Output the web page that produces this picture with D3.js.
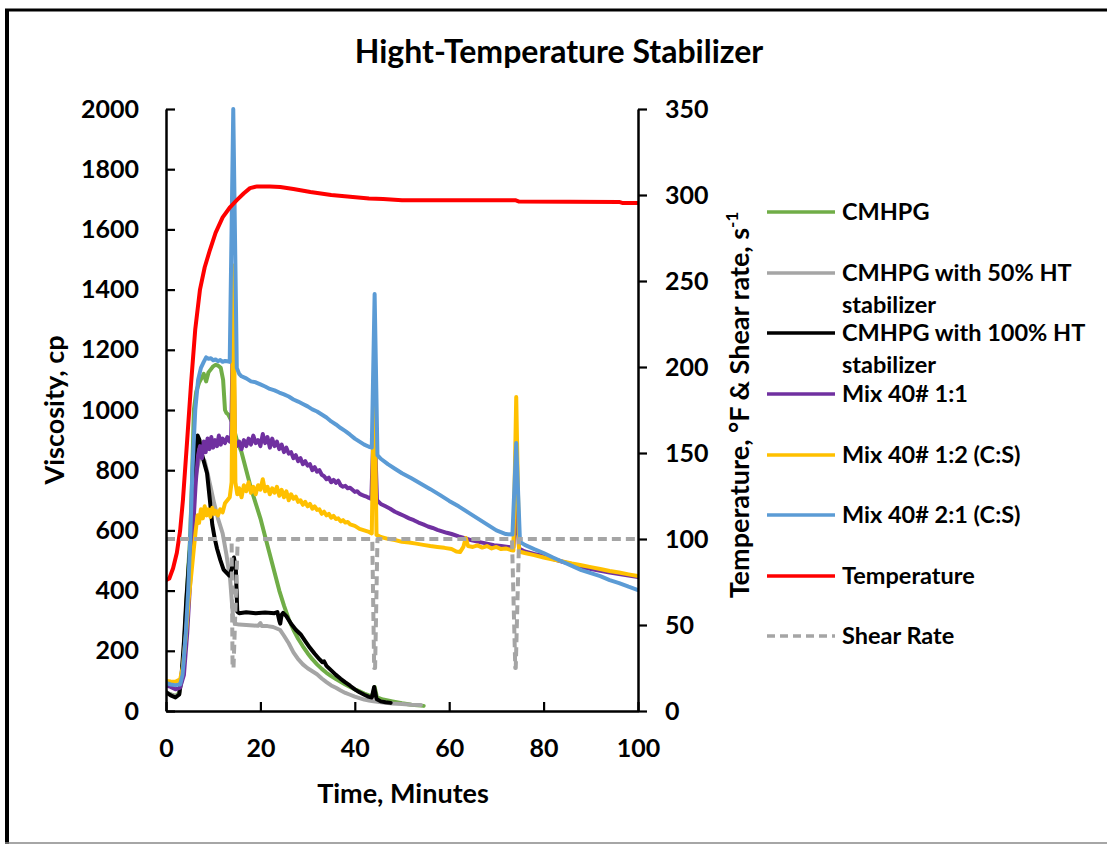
<!DOCTYPE html>
<html>
<head>
<meta charset="utf-8">
<script src="https://cdn.jsdelivr.net/npm/d3@7/dist/d3.min.js"></script>
<style>
  html, body { margin: 0; padding: 0; background: #fff; }
  svg { display: block; }
  text { font-family: Lato, "Open Sans", "Liberation Sans", sans-serif; font-weight: 700; fill: #000; }
</style>
</head>
<body>
<svg id="chart" width="1107" height="844"></svg>
<script>
// ---- data: [time (min), value] ----
const cmhpg = [[0,60],[1,55],[2,50],[2.8,60],[3.3,100],[3.8,200],[4.3,350],[4.7,470],[5.1,570],[5.5,760],[5.9,1000],[6.4,1060],[7,1090],[7.5,1105],[8,1120],[8.5,1095],[9,1125],[9.5,1135],[10,1145],[10.5,1150],[11,1148],[11.6,1140],[12.1,1100],[12.5,1000],[12.8,990],[13.2,985],[14,960],[15,900],[16,860],[17,800],[18,740],[19,690],[20,640],[21,580],[22,520],[23,460],[24,400],[25,350],[26,305],[27,270],[28,240],[29,215],[30,192],[31,172],[32,155],[33,140],[34,127],[35,116],[36,106],[37,97],[38,88],[39,80],[40,72],[41,65],[42,58],[43,52],[43.7,50],[44.2,80],[44.7,45],[46,38],[48,32],[50,26],[52,21],[54.6,17]];

const cmhpg50 = [[0,63],[1,55],[2,48],[2.8,55],[3.3,110],[3.8,210],[4.3,340],[4.8,450],[5.3,560],[5.8,690],[6.4,790],[7,835],[7.6,845],[8.2,830],[8.8,790],[9.5,740],[10.2,690],[11,640],[12,590],[12.8,520],[13.6,435],[14.2,312],[14.6,290],[15.5,287],[17,286],[18.5,284],[19.5,283],[20,292],[20.3,282],[21.5,282],[22.7,279],[24.2,269],[25,250],[26,225],[27,195],[28,172],[29,155],[30,142],[31,132],[32,122],[33,108],[34,96],[35,85],[36,77],[37,68],[38,60],[39,54],[40,48],[41,43],[42,38],[43,35],[44,32],[46,28],[48,25],[50,23],[52,21],[54,20]];

const cmhpg100 = [[0,63],[1,52],[2,45],[2.8,55],[3.3,120],[3.8,230],[4.3,370],[4.8,480],[5.2,560],[5.7,720],[6.2,860],[6.7,915],[7.1,900],[7.5,860],[8,830],[8.7,790],[9.3,700],[9.8,620],[10.3,575],[10.8,540],[11.5,502],[12.2,470],[12.9,458],[13.4,450],[13.9,470],[14.4,510],[14.8,470],[15.1,330],[15.5,325],[17,328],[19,325],[21,327],[23,325],[23.6,329],[24,300],[24.2,290],[24.5,320],[24.8,326],[25.5,315],[26.5,290],[27.5,270],[28.5,255],[29.5,232],[30.5,210],[31.5,190],[32.5,172],[33.1,162],[33.5,165],[34,150],[35,135],[36,120],[37,107],[38,95],[39,84],[40,72],[41,62],[42,54],[43,47],[43.6,45],[44.1,80],[44.6,40],[45.5,32],[46.5,29],[47.6,27]];

const mix11 = [[0,85],[1,80],[2,72],[3,78],[3.8,120],[4.5,260],[5.2,450],[5.8,620],[6.3,760],[6.8,850],[7.2,880],[7.6,840],[8,895],[8.4,860],[8.8,905],[9.2,870],[9.6,910],[10,875],[10.4,900],[10.8,880],[11.2,915],[11.6,885],[12,905],[12.5,890],[13,910],[13.5,895],[13.8,900],[14.2,1300],[14.6,900],[15,880],[15.5,895],[16,870],[16.5,900],[17,880],[17.5,905],[18,885],[18.5,915],[19,890],[19.5,900],[20,880],[20.5,920],[21,890],[21.5,910],[22,875],[22.5,905],[23,880],[23.5,895],[24,870],[24.5,885],[25,860],[25.5,875],[26,855],[26.5,860],[27,840],[27.5,850],[28,830],[28.5,840],[29,820],[29.5,830],[30,815],[30.5,820],[31,800],[31.5,810],[32,795],[32.5,800],[33,785],[33.5,780],[34,770],[34.5,775],[35,760],[35.5,768],[36,758],[36.5,765],[37,750],[37.5,745],[38,748],[38.5,740],[39,742],[39.5,735],[40,728],[40.5,730],[41,722],[41.5,718],[42,715],[42.5,712],[43,708],[43.5,705],[44.1,1000],[44.7,700],[45.5,688],[46.5,680],[47.5,672],[48.5,662],[49.5,655],[50.5,648],[51.5,640],[52.5,634],[53.5,626],[54.5,620],[55.5,613],[56.5,608],[57.5,602],[58.5,597],[59.5,592],[60.5,588],[62,580],[63.5,573],[65,566],[66.5,561],[68,556],[69.5,551],[71,548],[72.5,545],[73.6,543],[74.2,700],[74.8,540],[76,530],[78,522],[80,515],[82,505],[84,496],[86,487],[88,478],[90,472],[92,466],[94,460],[96,455],[98,450],[100,445]];

const mix12 = [[0,100],[1,98],[2,97],[3,105],[3.6,150],[4.2,250],[4.8,370],[5.4,460],[5.9,540],[6.3,600],[6.7,650],[7,625],[7.4,670],[7.8,640],[8.2,680],[8.6,650],[9,670],[9.4,645],[9.8,675],[10.2,655],[10.6,665],[11,650],[11.5,670],[12,660],[12.5,690],[13,700],[13.5,710],[13.9,760],[14.3,1480],[14.7,760],[15.1,720],[15.5,740],[16,710],[16.5,750],[17,730],[17.5,760],[18,725],[18.5,745],[19,720],[19.5,750],[20,735],[20.5,770],[21,730],[21.5,745],[22,720],[22.5,740],[23,725],[23.5,745],[24,715],[24.5,735],[25,710],[25.5,730],[26,700],[26.5,720],[27,705],[27.5,712],[28,695],[28.5,700],[29,685],[29.5,695],[30,680],[30.5,688],[31,672],[31.5,680],[32,668],[32.5,670],[33,655],[33.5,662],[34,650],[34.5,655],[35,642],[35.5,648],[36,638],[36.5,640],[37,630],[37.5,634],[38,626],[38.5,628],[39,620],[40,615],[41,605],[42,600],[43,595],[43.6,590],[44.1,1150],[44.6,585],[45.5,578],[47,572],[48.5,568],[50,562],[51.5,560],[53,556],[54.5,552],[56,548],[57.5,545],[59,542],[60.5,538],[61.5,530],[62.3,528],[63,545],[63.5,575],[64,548],[65,545],[66,550],[67,543],[68,548],[69,540],[70,545],[71,538],[72,540],[73,535],[73.6,533],[74.2,1043],[74.8,530],[76,525],[78,518],[80,510],[82,503],[84,497],[86,490],[88,484],[90,478],[92,472],[94,465],[96,460],[98,454],[100,448]];

const mix21 = [[0,93],[1,88],[2,86],[3,88],[3.5,120],[4.2,260],[4.7,400],[5.1,560],[5.6,800],[6.2,1000],[6.8,1100],[7.4,1140],[8,1160],[8.5,1175],[9,1170],[9.5,1172],[10,1165],[10.5,1168],[11,1162],[11.5,1166],[12,1160],[12.5,1163],[13,1162],[13.5,1160],[14.25,2000],[15,1140],[15.5,1120],[16,1112],[17,1105],[18,1095],[19,1092],[20,1085],[21,1078],[22,1070],[23,1065],[24,1058],[25,1052],[26,1045],[27,1035],[28,1028],[29,1020],[30,1012],[31,1002],[32,995],[33,985],[34,975],[35,962],[36,952],[37,940],[38,930],[39,918],[40,905],[41,895],[42,885],[43,878],[43.6,875],[44.2,1385],[44.8,850],[45.5,838],[47,820],[48.5,805],[50,790],[52,773],[54,755],[56,737],[58,718],[60,698],[62,680],[64,660],[66,640],[68,620],[70,600],[72,588],[73.4,586],[74.2,890],[75,562],[76,552],[78,538],[80,525],[82,510],[84,496],[86,482],[88,468],[90,458],[92,448],[94,435],[96,425],[98,413],[100,402]];

// right axis series
const temperature = [[0,76],[0.7,77],[1.5,83],[2.3,92],[3,105],[3.6,123],[4.5,158],[5.3,190],[6.2,222],[7.2,245],[8.2,258],[9.3,268],[10.5,278],[12,287],[13.6,293],[15,297],[16.5,301],[17.8,304],[19.3,305],[22,305],[24.2,304.7],[27,303.5],[30.6,301.7],[35,300],[39,299],[43,298],[46,297.7],[50,297],[74,297],[74.8,296.2],[96,296],[96.8,295.3],[100,295.3]];

const shearRate = [[0,100],[13.9,100],[14.1,25],[14.3,25],[15.2,100],[43.7,100],[44.1,25],[44.3,25],[44.8,100],[73.3,100],[74.0,25],[74.1,25],[74.8,100],[100,100]];

const xTicks = [0, 20, 40, 60, 80, 100];
const yLeftTicks = [0, 200, 400, 600, 800, 1000, 1200, 1400, 1600, 1800, 2000];
const yRightTicks = [0, 50, 100, 150, 200, 250, 300, 350];

const series = [
  { name: "CMHPG", data: cmhpg, color: "#70ad47", axis: "left" },
  { name: "CMHPG with 50% HT|stabilizer", data: cmhpg50, color: "#a5a5a5", axis: "left" },
  { name: "CMHPG with 100% HT|stabilizer", data: cmhpg100, color: "#000000", axis: "left" },
  { name: "Mix 40# 1:1", data: mix11, color: "#7030a0", axis: "left" },
  { name: "Mix 40# 1:2 (C:S)", data: mix12, color: "#ffc000", axis: "left" },
  { name: "Mix 40# 2:1 (C:S)", data: mix21, color: "#5b9bd5", axis: "left" },
  { name: "Temperature", data: temperature, color: "#ff0000", axis: "right" },
  { name: "Shear Rate", data: shearRate, color: "#a5a5a5", axis: "right", dash: "8,5" }
];

// ---- layout ----
const svg = d3.select("#chart");
const plot = { left: 166, right: 638, top: 109, bottom: 711 };

const x = d3.scaleLinear().domain([0, 100]).range([plot.left, plot.right]);
const yL = d3.scaleLinear().domain([0, 2000]).range([plot.bottom, plot.top]);
const yR = d3.scaleLinear().domain([0, 350]).range([plot.bottom, plot.top]);

// outer frame
svg.append("line").attr("x1", 7).attr("y1", 9).attr("x2", 7).attr("y2", 844)
  .attr("stroke", "#000").attr("stroke-width", 4);
svg.append("line").attr("x1", 5).attr("y1", 10).attr("x2", 1107).attr("y2", 10)
  .attr("stroke", "#000").attr("stroke-width", 3);
svg.append("line").attr("x1", 5).attr("y1", 843).attr("x2", 1107).attr("y2", 843)
  .attr("stroke", "#888").attr("stroke-width", 1.5);

// title
svg.append("text").attr("x", 559).attr("y", 63).attr("text-anchor", "middle")
  .attr("font-size", 32).text("Hight-Temperature Stabilizer");

// series lines
svg.append("defs").append("clipPath").attr("id", "plotclip")
  .append("rect").attr("x", plot.left).attr("y", plot.top - 2)
  .attr("width", plot.right - plot.left).attr("height", plot.bottom - plot.top + 2);

const lines = svg.append("g").attr("clip-path", "url(#plotclip)");
series.forEach(s => {
  const yS = s.axis === "left" ? yL : yR;
  const gen = d3.line().x(d => x(d[0])).y(d => yS(d[1]));
  lines.append("path").datum(s.data)
    .attr("fill", "none").attr("stroke", s.color)
    .attr("stroke-width", 4)
    .attr("stroke-linejoin", "round")
    .attr("stroke-linecap", s.dash ? "butt" : "round")
    .attr("stroke-dasharray", s.dash ? "9,5" : null)
    .attr("d", gen);
});

// axes
const axisStyle = g => {
  g.select(".domain").attr("stroke", "#000").attr("stroke-width", 2.5);
  g.selectAll(".tick line").attr("stroke", "#000").attr("stroke-width", 2.2);
  g.selectAll(".tick text").attr("font-size", 25).attr("font-family", "Lato, sans-serif").attr("font-weight", 700).attr("fill", "#000");
};

svg.append("g").attr("transform", `translate(0,${plot.bottom})`)
  .call(d3.axisBottom(x).tickValues(xTicks).tickFormat(d3.format("d")).tickSize(-9).tickPadding(28).tickSizeOuter(0))
  .call(axisStyle);

svg.append("g").attr("transform", `translate(${plot.left},0)`)
  .call(d3.axisLeft(yL).tickValues(yLeftTicks).tickFormat(d3.format("d")).tickSize(-9).tickPadding(27).tickSizeOuter(0))
  .call(axisStyle);

svg.append("g").attr("transform", `translate(${plot.right},0)`)
  .call(d3.axisRight(yR).tickValues(yRightTicks).tickFormat(d3.format("d")).tickSize(9).tickPadding(18).tickSizeOuter(0))
  .call(axisStyle);

// axis titles
svg.append("text").attr("x", 403).attr("y", 803).attr("text-anchor", "middle")
  .attr("font-size", 27).text("Time, Minutes");

svg.append("text").attr("transform", "translate(64,410) rotate(-90)")
  .attr("text-anchor", "middle").attr("font-size", 27).text("Viscosity, cp");

const rt = svg.append("text").attr("transform", "translate(749,405) rotate(-90)")
  .attr("text-anchor", "middle").attr("font-size", 27);
rt.append("tspan").text("Temperature, °F & Shear rate, s");
rt.append("tspan").attr("font-size", 17).attr("dy", -11).text("-1");

// legend
const legendRows = [212, 273, 333, 394, 455, 515, 576, 636];
const lg = svg.append("g");
series.forEach((s, i) => {
  const yy = legendRows[i];
  lg.append("line").attr("x1", 767).attr("x2", 835).attr("y1", yy).attr("y2", yy)
    .attr("stroke", s.color).attr("stroke-width", 3.5)
    .attr("stroke-dasharray", s.dash || null);
  const parts = s.name.split("|");
  parts.forEach((p, k) => {
    lg.append("text").attr("x", 842).attr("y", yy + 8 + k * 32)
      .attr("font-size", 23.5).text(p);
  });
});
</script>
</body>
</html>
